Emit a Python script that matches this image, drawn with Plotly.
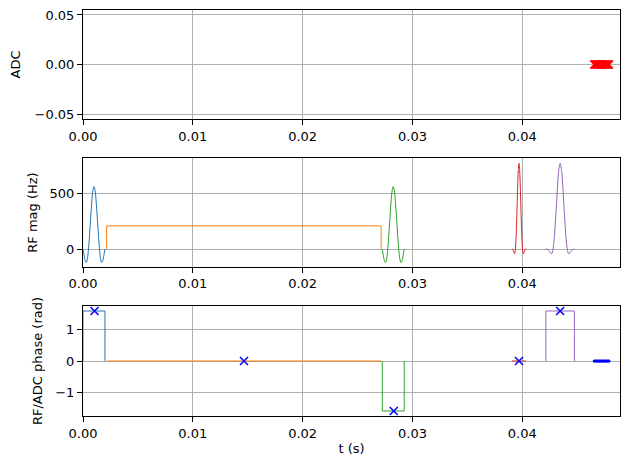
import plotly.graph_objs as go

# RF pulse magnitudes (Hz)
rf1_t = [0.0000, 0.0001, 0.0002, 0.0003, 0.0004, 0.0005, 0.0006, 0.0007, 0.0008, 0.0009, 0.0010,
         0.0011, 0.0012, 0.0013, 0.0014, 0.0015, 0.0016, 0.0017, 0.0018, 0.0019, 0.0020]
rf1_mag = [0, -58, -106, -121, -87, 0, 131, 283, 424, 524, 560,
           524, 424, 283, 131, 0, -87, -121, -106, -58, 0]

rf2_t = [0.00215, 0.00215, 0.02715, 0.02715]
rf2_mag = [0, 208, 208, 0]

rf3_t = [0.02725, 0.02735, 0.02745, 0.02755, 0.02765, 0.02775, 0.02785, 0.02795, 0.02805, 0.02815, 0.02825,
         0.02835, 0.02845, 0.02855, 0.02865, 0.02875, 0.02885, 0.02895, 0.02905, 0.02915, 0.02925]
rf3_mag = [0, -58, -106, -121, -87, 0, 131, 283, 424, 524, 560,
           524, 424, 283, 131, 0, -87, -121, -106, -58, 0]

rf4_t = [0.03905, 0.039115, 0.03918, 0.039245, 0.03931, 0.039375, 0.03944, 0.039505, 0.03957, 0.039635, 0.0397,
         0.039765, 0.03983, 0.039895, 0.03996, 0.040025, 0.04009, 0.040155, 0.04022, 0.040285, 0.04035]
rf4_mag = [0, -2, -14, -34, -42, 0, 118, 309, 528, 704, 771,
           704, 528, 309, 118, 0, -42, -34, -14, -2, 0]

rf5_t = [0.04215, 0.04228, 0.04241, 0.04254, 0.04267, 0.0428, 0.04293, 0.04306, 0.04319, 0.04332, 0.04345,
         0.04358, 0.04371, 0.04384, 0.04397, 0.0441, 0.04423, 0.04436, 0.04449, 0.04462, 0.04475]
rf5_mag = [0, -2, -14, -34, -42, 0, 118, 309, 528, 704, 771,
           704, 528, 309, 118, 0, -42, -34, -14, -2, 0]

# RF phases (rad)
ph1_t = [0.0000, 0.0000, 0.0020, 0.0020]
ph1 = [0, 1.5708, 1.5708, 0]
ph2_t = [0.00215, 0.02715]
ph2 = [0, 0]
ph3_t = [0.02725, 0.02725, 0.02925, 0.02925]
ph3 = [0, -1.5708, -1.5708, 0]
ph4_t = [0.03905, 0.04035]
ph4 = [0, 0]
ph5_t = [0.04215, 0.04215, 0.04475, 0.04475]
ph5 = [0, 1.5708, 1.5708, 0]

# RF centres
centre_t = [0.00105, 0.01466, 0.0283, 0.0397, 0.04345]
centre_ph = [1.5708, 0, -1.5708, 0, 1.5708]

# ADC samples
adc_t = [0.04655, 0.04664, 0.04673, 0.04682, 0.04691, 0.04700, 0.04709, 0.04718,
         0.04727, 0.04736, 0.04745, 0.04754, 0.04763, 0.04772, 0.04781, 0.04790]
adc_val = [0] * len(adc_t)

# tick positions
x_ticks = [0.0, 0.01, 0.02, 0.03, 0.04]
adc_ticks = [-0.05, 0.0, 0.05]
mag_ticks = [0, 500]
ph_ticks = [-1, 0, 1]

colors = ['#1f77b4', '#ff7f0e', '#2ca02c', '#d62728', '#9467bd']

data_g = []
rf_list = [(rf1_t, rf1_mag, 'spline'), (rf2_t, rf2_mag, 'linear'), (rf3_t, rf3_mag, 'spline'),
           (rf4_t, rf4_mag, 'spline'), (rf5_t, rf5_mag, 'spline')]
for i, (t, m, shp) in enumerate(rf_list):
    data_g.append(go.Scatter(x=t, y=m, mode='lines', xaxis='x2', yaxis='y2',
                             line=dict(color=colors[i], width=1, shape=shp)))

ph_list = [(ph1_t, ph1), (ph2_t, ph2), (ph3_t, ph3), (ph4_t, ph4), (ph5_t, ph5)]
for i, (t, p) in enumerate(ph_list):
    data_g.append(go.Scatter(x=t, y=p, mode='lines', xaxis='x3', yaxis='y3',
                             line=dict(color=colors[i], width=1)))

data_g.append(go.Scatter(x=centre_t, y=centre_ph, mode='markers', xaxis='x3', yaxis='y3',
                         marker=dict(symbol='x-thin', size=8, line=dict(color='blue', width=1.5))))
data_g.append(go.Scatter(x=adc_t, y=adc_val, mode='markers', xaxis='x3', yaxis='y3',
                         marker=dict(symbol='circle', size=3, color='blue')))
data_g.append(go.Scatter(x=adc_t, y=adc_val, mode='markers', xaxis='x', yaxis='y',
                         marker=dict(symbol='x-thin', size=8, line=dict(color='red', width=1.5))))

font = dict(family='DejaVu Sans', size=13, color='black')


def xax(anchor, title=None):
    d = dict(anchor=anchor, domain=[0, 1], range=[0, 0.0489], tickmode='array', tickvals=x_ticks,
             tickformat='.2f',
             showline=True, mirror=True, linecolor='black', linewidth=1, ticks='outside', ticklen=5,
             tickcolor='black', showgrid=True, gridcolor='#b0b0b0', gridwidth=1, zeroline=False,
             tickfont=font, automargin=False)
    if title:
        d['title'] = dict(text=title, font=font, standoff=4)
    return d


def yax(anchor, dom, rng, title, vals, fmt, standoff):
    return dict(anchor=anchor, domain=dom, range=rng, tickmode='array', tickvals=vals, tickformat=fmt,
                showline=True, mirror=True, linecolor='black', linewidth=1, ticks='outside', ticklen=5,
                tickcolor='black', showgrid=True, gridcolor='#b0b0b0', gridwidth=1, zeroline=False,
                tickfont=font, automargin=False, ticklabeloverflow='allow',
                title=dict(text=title, font=font, standoff=standoff))


# page body has an 8px margin, so the figure is sized to fit inside the window
layout = go.Layout(
    width=622, height=461, showlegend=False,
    paper_bgcolor='white', plot_bgcolor='white',
    margin=dict(l=75, r=10, t=2, b=53),
    xaxis=xax('y'), xaxis2=xax('y2'), xaxis3=xax('y3', 't (s)'),
    yaxis=yax('x', [0.7315, 1], [-0.055, 0.055], 'ADC', adc_ticks, '.2f', 12),
    yaxis2=yax('x2', [0.3677, 0.6347], [-159, 815], 'RF mag (Hz)', mag_ticks, 'd', 9),
    yaxis3=yax('x3', [0, 0.2709], [-1.728, 1.728], 'RF/ADC phase (rad)', ph_ticks, 'd', 9),
)
fig = go.Figure(data=data_g, layout=layout)
fig.write_html("out.html")
